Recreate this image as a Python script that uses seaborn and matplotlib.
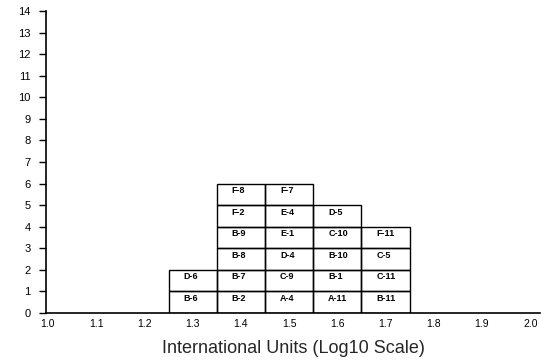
import matplotlib
matplotlib.use("Agg")
import matplotlib.pyplot as plt
import seaborn as sns
import numpy as np
import pandas as pd

# Sample identifiers and their log10 potency bin (bottom to top within each bin)
samples = ["B-6", "D-6",
           "B-2", "B-7", "B-8", "B-9", "F-2", "F-8",
           "A-4", "C-9", "D-4", "E-1", "E-4", "F-7",
           "A-11", "B-1", "B-10", "C-10", "D-5",
           "B-11", "C-11", "C-5", "F-11"]
log_values = [1.3, 1.3,
              1.4, 1.4, 1.4, 1.4, 1.4, 1.4,
              1.5, 1.5, 1.5, 1.5, 1.5, 1.5,
              1.6, 1.6, 1.6, 1.6, 1.6,
              1.7, 1.7, 1.7, 1.7]
x_ticks = [1.0, 1.1, 1.2, 1.3, 1.4, 1.5, 1.6, 1.7, 1.8, 1.9, 2.0]
y_ticks = list(range(0, 15))
bin_width = 0.1

df = pd.DataFrame({"sample": samples, "logval": log_values})
df["level"] = df.groupby("logval").cumcount()

sns.set_theme(style="ticks")
plt.rcParams["font.family"] = ["Liberation Sans", "DejaVu Sans"]

fig = plt.figure(figsize=(5.47, 3.6), dpi=100)
ax = fig.add_axes([0.0841, 0.1306, 0.9029, 0.8388])

ax.bar(df["logval"], np.ones(len(df)), bottom=df["level"], width=bin_width,
       fill=False, edgecolor="black", linewidth=1.0, align="center")

for _, row in df.iterrows():
    ax.text(row["logval"] - bin_width / 2 + 0.031, row["level"] + 0.68,
            row["sample"], ha="left", va="center", fontsize=6.5,
            fontweight="bold", color="black")

ax.set_xlim(0.996, 2.02)
ax.set_ylim(0, 14)
ax.set_xticks(x_ticks)
ax.set_xticklabels([f"{v:.1f}" for v in x_ticks])
ax.set_yticks(y_ticks)
ax.tick_params(axis="x", length=0, labelsize=7.5, pad=4, colors="black")
ax.tick_params(axis="y", length=5, width=1, labelsize=8, pad=6, colors="black")
for side in ("top", "right"):
    ax.spines[side].set_visible(False)
for side in ("left", "bottom"):
    ax.spines[side].set_color("black")
    ax.spines[side].set_linewidth(1.2)
ax.set_xlabel("International Units (Log10 Scale)", fontsize=13, labelpad=8)

fig.savefig("out.png", dpi=100)
